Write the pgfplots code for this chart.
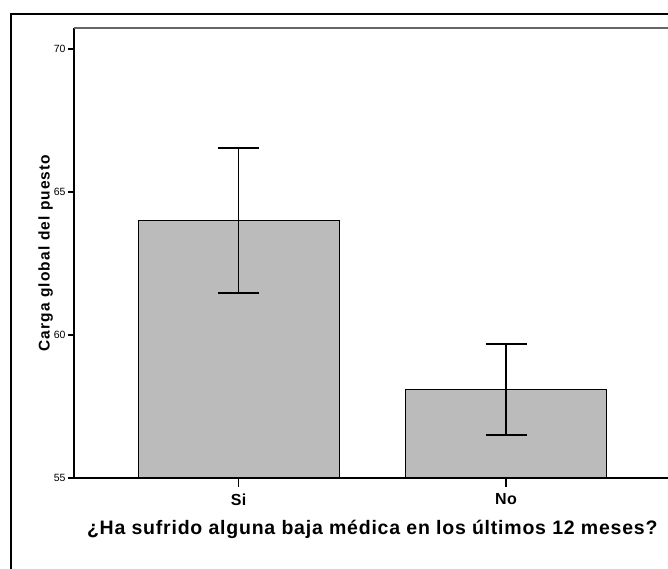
\documentclass[border=0pt]{standalone}
\usepackage{fontspec}
\setmainfont{Liberation Sans}
\usepackage{pgfplots}
\pgfplotsset{compat=1.18}
\definecolor{barfill}{HTML}{BBBBBB}
\begin{document}
\begin{tikzpicture}[x=1pt,y=1pt]
\useasboundingbox (0,0) rectangle (668,568);
\draw[line width=2pt] (11,-20) -- (11,554) -- (700,554);
\begin{axis}[
  at={(74pt,90pt)}, anchor=south west,
  scale only axis, width=596.5pt, height=450pt,
  xmin=-0.615, xmax=1.615, ymin=55, ymax=70.73,
  axis line style={draw=none},
  xtick={0,1}, xticklabels={Si,No},
  ytick={55,60,65,70},
  xtick pos=bottom, ytick pos=left,
  tick align=outside,
  major tick length=6pt,
  xtick style={draw=none},
  ytick style={draw=black, line width=1.3pt},
  /pgf/number format/assume math mode=true,
  yticklabel style={font=\fontsize{10.5}{11}\selectfont, xshift=1pt},
  xticklabel style={font=\fontsize{16}{17}\selectfont\bfseries\addfontfeatures{LetterSpace=2}, yshift=-6pt},
  xlabel={¿Ha sufrido alguna baja médica en los últimos 12 meses?},
  xlabel style={font=\fontsize{19.5}{21}\selectfont\bfseries\addfontfeatures{LetterSpace=4}, yshift=-8pt},
  ylabel={Carga global del puesto},
  ylabel style={font=\fontsize{15.5}{16}\selectfont\bfseries\addfontfeatures{LetterSpace=7.2}, yshift=-6pt},
]
\addplot[ybar, bar width=201pt, fill=barfill, draw=black, line width=0.9pt,
  error bars/.cd, y dir=both, y explicit,
  error bar style={line width=1.3pt, black},
  error mark options={rotate=90, mark size=20.5pt, line width=2pt, black}]
  coordinates {
   (0,64.0) += (0,2.54) -= (0,2.53)
   (1,58.08) += (0,1.61) -= (0,1.58)
  };
\coordinate (t0) at (axis cs:0,55);
\coordinate (t1) at (axis cs:1,55);
\end{axis}
\draw[black, line width=1.2pt] (74,90) -- (700,90);
\draw[black, line width=1.2pt] (74,90) -- (74,540);
\draw[gray!80!black, line width=1.2pt] (74,540) -- (700,540);
\draw[black, line width=1.3pt] (t0) -- ++(0,-9);
\draw[black, line width=1.3pt] (t1) -- ++(0,-9);
\end{tikzpicture}
\end{document}
